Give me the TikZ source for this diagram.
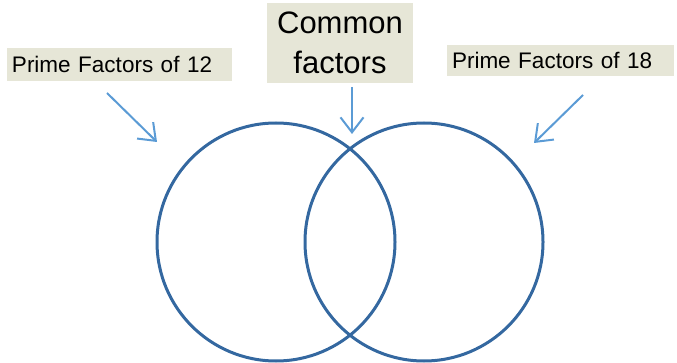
\documentclass[tikz,border=0pt]{standalone}
\usepackage{fontspec}
\setmainfont{Liberation Sans}
\usetikzlibrary{arrows.meta}
\definecolor{boxfill}{RGB}{230,230,215}
\definecolor{arrowblue}{RGB}{91,155,213}
\definecolor{circblue}{RGB}{52,104,160}
\begin{document}
\begin{tikzpicture}[x=1pt,y=-1pt,
  labelbox/.style={fill=boxfill,inner sep=0pt,font=\fontsize{22.5}{27}\selectfont},
  pointer/.style={draw=arrowblue,line width=2pt,-{Straight Barb[length=15pt,width=23pt,line width=2pt]}},
  vennset/.style={draw=circblue,line width=3pt,circle,minimum size=238pt,inner sep=0pt}]
\useasboundingbox (0,0) rectangle (677,363);
\node[labelbox,minimum width=225pt,minimum height=33pt,text width=215pt,align=left,inner xsep=5pt] (l12) at (119.5,64.5) {Prime Factors of 12};
\node[labelbox,minimum width=227pt,minimum height=31pt,text width=217pt,align=left,inner xsep=5pt] (l18) at (560.5,60.5) {Prime Factors of 18};
\node[labelbox,minimum width=146pt,minimum height=80pt,align=center,font=\fontsize{31}{40}\selectfont] (lc) at (340,43) {Common\\factors};
\node[vennset] (A) at (276,242) {};
\node[vennset] (B) at (424,242) {};
\coordinate (s1) at (107,93);
\coordinate (e1) at (157,142);
\coordinate (s2) at (352,87);
\coordinate (e2) at (352,134);
\coordinate (s3) at (583,95);
\coordinate (e3) at (534,143);
\draw[pointer] (s1) -- (e1);
\draw[pointer] (s2) -- (e2);
\draw[pointer] (s3) -- (e3);
\end{tikzpicture}
\end{document}
